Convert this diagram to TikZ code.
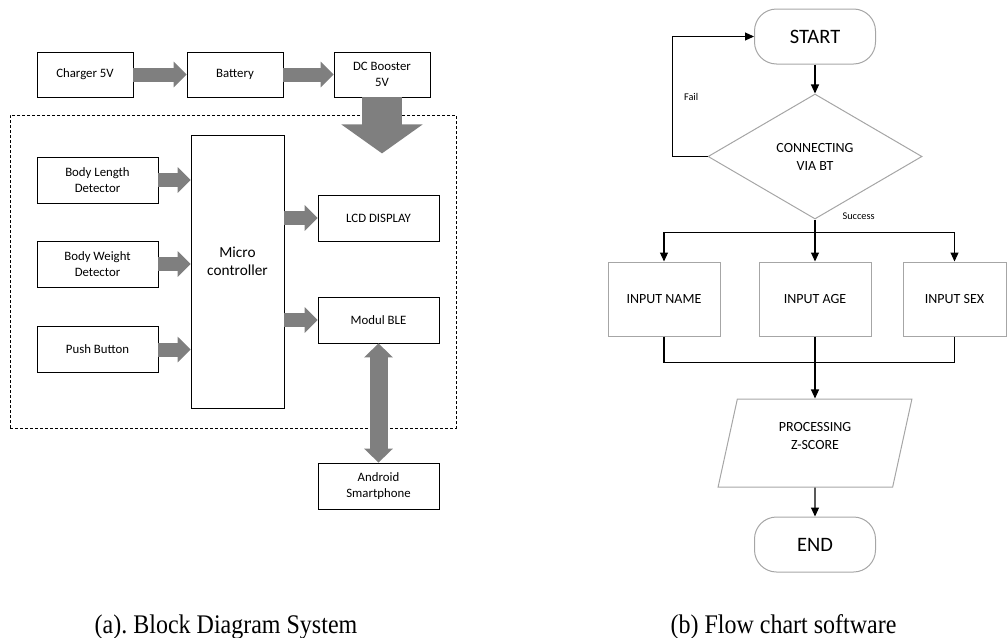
\documentclass[tikz,border=0pt]{standalone}
\usepackage{fontspec}
\setmainfont{Carlito}
\newfontfamily\capfont{Liberation Serif}
\usetikzlibrary{positioning, shapes.geometric, arrows.meta}
\definecolor{arrgray}{RGB}{127,127,127}
\definecolor{boxgray}{RGB}{166,166,166}
\newcommand\liftup[2]{\raisebox{#1}[\height][\depth]{\begin{tabular}{@{}c@{}}#2\end{tabular}}}

\begin{document}
\begin{tikzpicture}
	[x=1pt, y=-1pt, on grid,
	 blk/.style={draw, line width=0.8pt, minimum width=121pt, minimum height=46pt, inner sep=0pt, align=center, font=\fontsize{12.8}{16.7}\selectfont},
	 pwrblk/.style={blk, minimum width=96pt, minimum height=45pt},
	 sysframe/.style={draw, line width=0.8pt, dash pattern=on 3pt off 2pt, minimum width=446pt, minimum height=313pt, inner sep=0pt},
	 fat/.style={draw=arrgray, line width=14pt, -{Triangle[length=13pt, width=25pt]}},
	 flowbox/.style={draw=boxgray, line width=1pt, minimum width=112pt, minimum height=74pt, inner sep=0pt, align=center, font=\fontsize{14}{18}\selectfont},
	 term/.style={flowbox, rounded corners=22pt, minimum width=121pt, minimum height=55pt, font=\fontsize{20.5}{24}\selectfont},
	 flow/.style={line width=1.1pt, -{Triangle[length=9pt, width=8pt]}},
	 tag/.style={font=\fontsize{10.3}{12}\selectfont, inner sep=0pt},
	 captext/.style={font=\capfont\fontsize{24}{28}\selectfont, anchor=base, inner sep=0pt}]
   \useasboundingbox (0,0) rectangle (1008,637);
   % (a) block diagram
   \node[pwrblk] (chg) at (85,74.5) {Charger 5V};
   \node[pwrblk] (bat) [right=150pt of chg] {Battery};
   \node[pwrblk] (dcb) [right=147pt of bat] {DC Booster\\5V};
   \node[sysframe] (sys) at (233,271.5) {};
   \node[blk] (bld) at (97.5,180) {Body Length\\Detector};
   \node[blk] (bwd) [below=84pt of bld] {Body Weight\\Detector};
   \node[blk] (pb) [below=85.5pt of bwd] {Push Button};
   \node[blk, minimum width=93pt, minimum height=273pt, font=\fontsize{15.3}{18.3}\selectfont] (mcu) at (237.5,271.5) {\liftup{9pt}{Micro\\controller}};
   \node[blk] (lcd) at (378.5,218) {LCD DISPLAY};
   \node[blk] (ble) [below=102pt of lcd] {Modul BLE};
   \node[blk] (phone) [below=166pt of ble] {Android\\Smartphone};
   \coordinate (pwr) at ([yshift=-56pt]dcb.south);
   \draw[fat] (chg) -- (bat);
   \draw[fat] (bat) -- (dcb);
   \draw[fat, line width=40pt, -{Triangle[length=29pt, width=80pt]}] (dcb.south) -- (pwr);
   \foreach \s in {bld,bwd,pb}
      \draw[fat] (\s.east) -- (\s.east -| mcu.west);
   \foreach \d in {lcd,ble}
      \draw[fat] (\d.west -| mcu.east) -- (\d.west);
   \draw[fat, line width=18pt, {Triangle[length=14pt, width=28pt]}-{Triangle[length=14pt, width=28pt]}] (ble) -- (phone);
   % (b) flow chart
   \node[term] (start) at (815,36.5) {START};
   \node[flowbox, diamond, minimum width=214pt, minimum height=125pt] (dec) [below=120pt of start] {CONNECTING\\VIA BT};
   \node[flowbox] (age) [below=142.5pt of dec] {INPUT AGE};
   \node[flowbox] (nm) [left=151pt of age] {INPUT NAME};
   \node[flowbox, minimum width=103pt] (sex) [right=139.5pt of age] {INPUT SEX};
   \node[flowbox, trapezium, trapezium left angle=76, trapezium right angle=104, trapezium stretches=true, minimum width=195pt, minimum height=88pt] (proc) [below=144pt of age] {\liftup{6pt}{PROCESSING\\Z-SCORE}};
   \node[term] (stop) [below=101.5pt of proc] {END};
   \coordinate (split) at ([yshift=-13pt]dec.south);
   \coordinate (merge) at ([yshift=-26pt]age.south);
   \draw[flow] (start) -- (dec);
   \draw[flow] (dec.west) -- ++(-35,0) |- node[pos=0.25, tag, anchor=west, xshift=11pt] {Fail} (start.west);
   \draw[line width=1.1pt] (dec.south) -- node[pos=0, tag, anchor=west, xshift=27pt, yshift=3pt] {Success} (split);
   \draw[flow] (split) -| (nm.north);
   \draw[flow] (split) -| (sex.north);
   \draw[flow] (split) -- (age.north);
   \draw[line width=1.1pt] (nm.south) |- (merge) -| (sex.south);
   \draw[flow] (age) -- (proc);
   \draw[flow] (proc) -- (stop);
   % captions
   \node[captext] (capa) at (226,633) {\scalebox{1}[1.12]{(a).\ Block Diagram System}};
   \node[captext] (capb) at (783.5,633) {\scalebox{1}[1.12]{(b) Flow chart software}};
\end{tikzpicture}
\end{document}
